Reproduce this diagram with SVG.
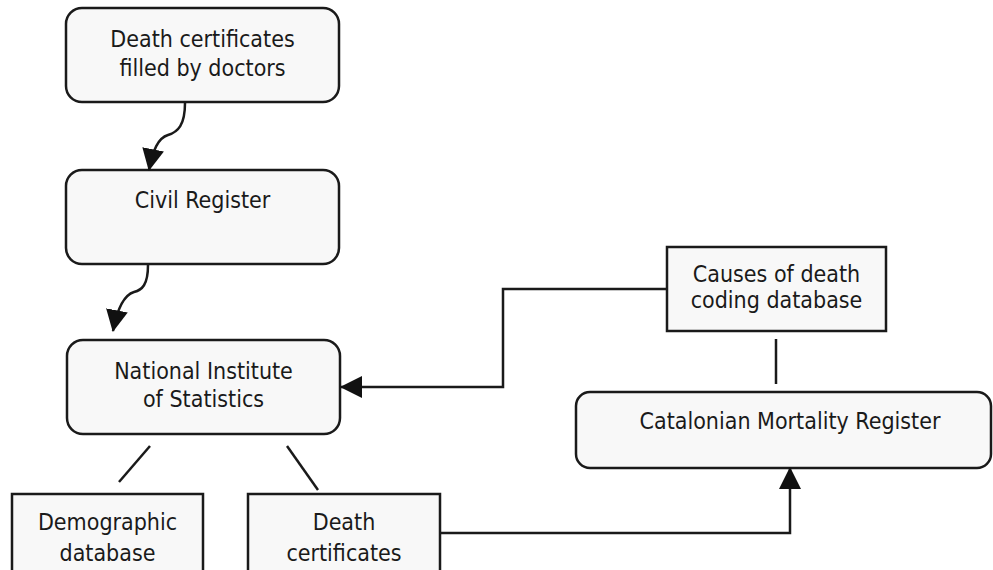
<svg xmlns="http://www.w3.org/2000/svg" width="993" height="570" viewBox="0 0 993 570">
<style>
.box{fill:#f8f8f8;stroke:#1a1a1a;stroke-width:2.5}
.t{font-family:"DejaVu Sans Condensed","DejaVu Sans",Verdana,sans-serif;font-stretch:condensed;font-size:23px;fill:#1a1a1a;text-anchor:middle}
.c{fill:none;stroke:#1a1a1a;stroke-width:2.5}
</style>
<defs>
<marker id="ah" markerUnits="userSpaceOnUse" viewBox="0 0 22 22" refX="21" refY="11" markerWidth="22" markerHeight="22" orient="auto">
<path d="M0,0 L22,11 L0,22 z" fill="#111"/>
</marker>
</defs>
<rect width="993" height="570" fill="#fff"/>
<g id="n1"><rect class="box" x="66" y="8" width="273" height="94" rx="16"/><text class="t" x="202.5" y="47">Death certificates</text><text class="t" x="202.5" y="76">filled by doctors</text></g>
<g id="n2"><rect class="box" x="66" y="170" width="273" height="94" rx="16"/><text class="t" x="202.5" y="208">Civil Register</text></g>
<g id="n3"><rect class="box" x="67" y="340" width="273" height="94" rx="16"/><text class="t" x="203.5" y="379">National Institute</text><text class="t" x="203.5" y="407">of Statistics</text></g>
<g id="n4"><rect class="box" x="12" y="494" width="191" height="90"/><text class="t" x="107.5" y="530">Demographic</text><text class="t" x="107.5" y="561">database</text></g>
<g id="n5"><rect class="box" x="248" y="494" width="192" height="90"/><text class="t" x="344" y="530">Death</text><text class="t" x="344" y="561">certificates</text></g>
<g id="n6"><rect class="box" x="667" y="247" width="219" height="84"/><text class="t" x="776.5" y="282">Causes of death</text><text class="t" x="776.5" y="308">coding database</text></g>
<g id="n7"><rect class="box" x="576" y="392" width="415" height="76" rx="14"/><text class="t" x="790" y="429">Catalonian Mortality Register</text></g>
<g id="connectors">
<path class="c" d="M185,103 C185,125 178,132 168,135 C158,138 153,150 149,170" marker-end="url(#ah)"/>
<path class="c" d="M148,265 C148,285 142,290 134,292 C124,295 117,310 113,331" marker-end="url(#ah)"/>
<path class="c" d="M667,289 H503 V387 H341" marker-end="url(#ah)"/>
<path class="c" d="M440,533 H790 V468" marker-end="url(#ah)"/>
<path class="c" d="M150,446 L119,482"/>
<path class="c" d="M287,446 L318,490"/>
<path class="c" d="M776,339 V384"/>
</g>
</svg>
